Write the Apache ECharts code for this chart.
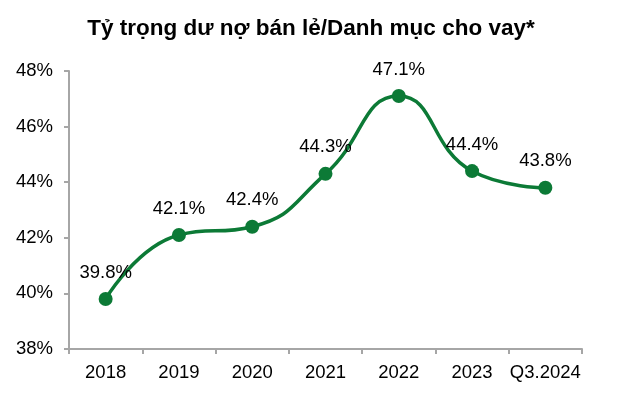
<!DOCTYPE html>
<html>
<head>
<meta charset="utf-8">
<script src="https://cdn.jsdelivr.net/npm/echarts@6/dist/echarts.min.js"></script>
<style>
html,body{margin:0;padding:0;background:#fff;}
#c{width:617px;height:394px;}
</style>
</head>
<body>
<div id="c"></div>
<script>
const titleText = 'Tỷ trọng dư nợ bán lẻ/Danh mục cho vay*';
const categories = ['2018','2019','2020','2021','2022','2023','Q3.2024'];
const retailShare = [39.8, 42.1, 42.4, 44.3, 47.1, 44.4, 43.8];
const yTicks = {min: 38, max: 48, interval: 2};

const chart = echarts.init(document.getElementById('c'), null, {renderer: 'canvas'});
const font = 'Arial, "Liberation Sans", sans-serif';
chart.setOption({
  animation: false,
  backgroundColor: '#ffffff',
  title: {
    text: titleText,
    left: 306,
    textAlign: 'center',
    top: 12,
    textStyle: {fontFamily: font, fontWeight: 'bold', fontSize: 22.5, color: '#000'}
  },
  grid: {left: 69, right: 35, top: 71, bottom: 45},
  xAxis: {
    type: 'category',
    data: categories,
    boundaryGap: true,
    axisLine: {lineStyle: {color: '#a6a6a6', width: 2}},
    axisTick: {show: true, length: 5, alignWithLabel: false, lineStyle: {color: '#a6a6a6', width: 2}},
    axisLabel: {interval: 0, margin: 14, fontFamily: font, fontSize: 18.5, color: '#000'}
  },
  yAxis: {
    type: 'value',
    min: yTicks.min, max: yTicks.max, interval: yTicks.interval,
    splitLine: {show: false},
    axisLine: {show: true, lineStyle: {color: '#a6a6a6', width: 2}},
    axisTick: {show: true, length: 5, lineStyle: {color: '#a6a6a6', width: 2}},
    axisLabel: {margin: 16, fontFamily: font, fontSize: 18.5, color: '#000', formatter: '{value}%'}
  },
  series: [{
    type: 'line',
    data: retailShare,
    smooth: 0.5,
    symbol: 'circle',
    symbolSize: 14,
    lineStyle: {color: '#0c7a36', width: 3.5},
    itemStyle: {color: '#0c7a36'},
    label: {
      show: true, position: 'top', distance: 10,
      fontFamily: font, fontSize: 18.5, color: '#000',
      formatter: p => p.value.toFixed(1) + '%'
    }
  }]
});
</script>
</body>
</html>
